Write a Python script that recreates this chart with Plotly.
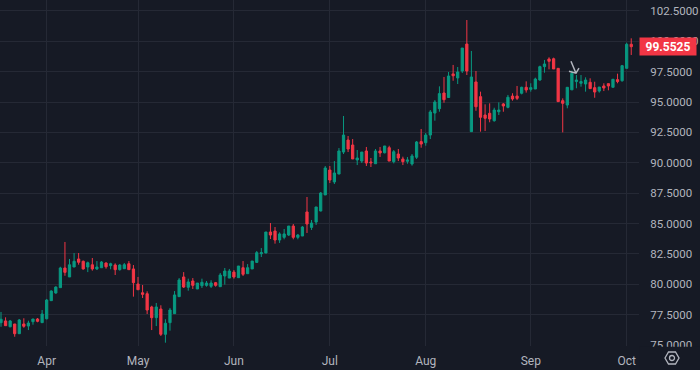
import plotly.graph_objects as go

# ---- data (daily candles, bar index order) ----
opens = [76.84, 76.98, 76.50, 76.73, 75.93, 76.73, 76.56, 76.92, 77.14, 76.84,
         77.16, 78.65, 79.28, 79.72, 81.34, 80.60, 81.42, 82.08, 81.89, 81.42,
         81.60, 81.26, 81.36, 81.75, 81.53, 81.58, 81.20, 81.28, 81.69, 81.26,
         80.02, 79.30, 79.22, 78.13, 77.25, 77.96, 75.88, 76.84, 77.58, 78.98,
         80.60, 79.75, 80.27, 79.61, 79.88, 79.91, 79.83, 80.13, 79.80, 80.68,
         80.51, 81.00, 80.54, 81.36, 80.87, 81.26, 81.80, 82.51, 82.57, 84.30,
         84.38, 83.64, 83.86, 84.05, 84.79, 83.86, 83.97, 85.95, 84.68, 85.12,
         86.03, 87.35, 89.40, 88.42, 89.07, 90.88, 91.87, 91.46, 90.23, 90.14,
         90.97, 90.06, 89.92, 90.97, 90.82, 91.24, 90.09, 90.72, 90.31, 90.12,
         89.90, 90.45, 91.74, 91.65, 92.28, 94.09, 94.45, 95.74, 95.37, 97.31,
         96.98, 97.55, 99.77, 92.56, 96.65, 95.44, 93.93, 94.07, 93.46, 94.20,
         94.84, 94.56, 95.49, 95.49, 95.72, 96.21, 96.04, 96.07, 96.81, 97.91,
         98.54, 98.56, 97.77, 95.11, 94.75, 96.00, 96.68, 96.54, 96.48, 96.62,
         96.18, 95.90, 96.32, 96.51, 96.21, 96.84, 96.75, 97.77, 99.75]
highs = [77.72, 77.28, 77.06, 76.73, 77.14, 77.20, 77.00, 77.14, 77.22, 77.88,
         78.79, 79.50, 79.83, 81.44, 83.48, 82.08, 82.57, 82.57, 81.95, 81.86,
         82.16, 81.91, 81.91, 81.80, 81.77, 81.72, 81.66, 81.75, 81.91, 81.58,
         80.60, 79.94, 79.42, 78.23, 78.46, 78.27, 77.12, 78.05, 79.44, 80.51,
         81.00, 80.46, 80.51, 80.10, 80.46, 80.27, 80.33, 80.19, 80.93, 81.34,
         81.26, 81.17, 81.50, 81.91, 81.66, 81.91, 82.74, 82.98, 84.30, 85.04,
         84.71, 84.27, 84.55, 84.79, 84.96, 84.14, 84.79, 87.18, 85.29, 86.36,
         87.59, 89.73, 89.73, 90.14, 91.21, 93.85, 92.20, 91.95, 91.05, 90.88,
         91.30, 90.39, 91.13, 91.30, 91.38, 91.40, 91.05, 91.13, 90.50, 90.47,
         90.72, 91.79, 92.78, 92.45, 94.34, 95.16, 96.29, 97.06, 97.47, 98.05,
         97.88, 99.44, 101.75, 99.20, 97.55, 95.85, 94.81, 94.89, 94.53, 94.97,
         94.92, 95.58, 95.72, 96.32, 96.26, 96.70, 96.54, 97.00, 97.99, 98.46,
         98.68, 98.65, 97.77, 95.30, 96.21, 97.58, 97.22, 97.22, 97.03, 96.95,
         96.67, 96.23, 96.54, 96.51, 96.87, 97.33, 98.05, 99.88, 100.24]
lows = [76.50, 76.59, 76.46, 75.68, 75.93, 76.42, 76.23, 76.67, 76.87, 76.84,
        77.11, 78.62, 79.22, 79.72, 80.70, 80.60, 81.42, 81.61, 81.20, 81.00,
        81.12, 81.17, 81.36, 81.28, 81.23, 80.76, 81.12, 81.28, 81.20, 78.98,
        79.55, 78.87, 77.55, 76.23, 76.56, 75.74, 75.19, 76.18, 77.58, 78.98,
        79.69, 79.47, 79.61, 79.61, 79.69, 79.80, 79.69, 79.80, 79.80, 79.97,
        80.51, 80.46, 80.54, 80.68, 80.87, 81.26, 81.77, 82.24, 82.57, 83.72,
        83.34, 83.40, 83.70, 83.97, 83.70, 83.70, 83.97, 84.22, 84.47, 84.88,
        86.00, 87.35, 88.33, 88.25, 89.07, 90.72, 90.88, 90.31, 89.81, 89.98,
        89.73, 89.65, 89.92, 90.47, 90.77, 90.14, 89.95, 90.14, 89.81, 89.92,
        89.76, 90.31, 91.24, 91.40, 91.95, 93.46, 94.20, 94.94, 95.37, 96.75,
        96.48, 97.39, 97.22, 92.56, 94.28, 92.56, 92.61, 93.33, 93.38, 93.93,
        94.20, 94.48, 95.11, 95.16, 95.63, 95.77, 95.85, 96.07, 96.75, 97.41,
        97.69, 97.72, 95.03, 92.50, 94.48, 96.00, 96.13, 96.26, 95.85, 96.10,
        95.35, 95.77, 95.90, 95.96, 96.21, 96.54, 96.67, 97.77, 98.87]
closes = [77.12, 76.59, 76.98, 75.93, 77.06, 76.54, 76.81, 77.14, 76.95, 77.55,
          78.70, 79.44, 79.77, 81.34, 80.98, 81.60, 81.89, 81.81, 81.26, 81.77,
          81.26, 81.42, 81.83, 81.44, 81.69, 81.20, 81.58, 81.61, 81.20, 80.13,
          79.55, 79.17, 77.88, 77.25, 78.13, 75.88, 76.79, 77.88, 79.12, 80.35,
          79.77, 80.19, 79.91, 80.10, 80.16, 80.10, 80.10, 79.91, 80.76, 81.09,
          81.09, 80.60, 81.50, 80.82, 81.36, 81.91, 82.60, 82.60, 84.30, 84.05,
          83.64, 84.14, 84.14, 84.79, 83.86, 84.05, 84.71, 84.96, 85.04, 86.36,
          87.51, 89.57, 88.58, 89.16, 90.97, 92.28, 91.13, 90.31, 90.39, 90.88,
          89.98, 90.00, 90.97, 90.80, 91.38, 90.14, 90.91, 90.39, 90.09, 90.23,
          90.56, 91.71, 91.54, 92.28, 94.18, 95.00, 95.69, 95.19, 97.14, 97.16,
          97.47, 99.44, 97.55, 97.06, 94.61, 93.74, 93.66, 93.60, 94.34, 94.34,
          94.67, 95.39, 95.25, 95.30, 96.21, 95.99, 96.18, 96.89, 97.91, 98.13,
          98.35, 97.72, 95.03, 94.89, 96.21, 97.36, 96.81, 96.68, 96.81, 96.10,
          95.82, 96.23, 96.15, 96.32, 96.87, 96.68, 97.99, 99.75, 99.5525]

month_labels = ["Apr", "May", "Jun", "Jul", "Aug", "Sep", "Oct"]
month_start_bar = [10, 30, 51, 72, 93, 116, 137]

price_ticks = [75.0, 77.5, 80.0, 82.5, 85.0, 87.5, 90.0, 92.5, 95.0, 97.5, 100.0, 102.5]

# a single drawn arrow marker (bar index, price of its tip)
arrow_bar = 125.9
arrow_price = 97.37

# ---- styling ----
BG = "#161a25"
GRID = "#252935"
TXT = "#b2b5be"
UP = "#089981"
DOWN = "#f23645"
FONT = "Roboto"

bars = list(range(len(opens)))
last_close = closes[-1]

fig = go.Figure(go.Candlestick(
    x=bars, open=opens, high=highs, low=lows, close=closes,
    increasing=dict(line=dict(color=UP, width=1), fillcolor=UP),
    decreasing=dict(line=dict(color=DOWN, width=1), fillcolor=DOWN),
    whiskerwidth=0, hoverinfo="skip", showlegend=False,
))

fig.update_layout(
    width=700, height=370,
    paper_bgcolor=BG, plot_bgcolor=BG,
    margin=dict(l=0, r=61, t=0, b=24, pad=0),
    font=dict(family=FONT, size=12, color=TXT),
    showlegend=False,
)
fig.update_xaxes(
    range=[-0.22, 139.7], tickmode="array",
    tickvals=month_start_bar, ticktext=month_labels,
    showgrid=True, gridcolor=GRID, gridwidth=1,
    zeroline=False, showline=False,
    ticks="outside", ticklen=4, tickcolor="rgba(0,0,0,0)",
    tickfont=dict(family=FONT, size=12, color=TXT),
    rangeslider=dict(visible=False), fixedrange=True,
)
fig.update_yaxes(
    side="right", range=[74.918, 103.395], tickmode="array",
    tickvals=price_ticks, ticktext=[f"{v:.4f}" for v in price_ticks],
    showgrid=True, gridcolor=GRID, gridwidth=1,
    zeroline=False, showline=False,
    ticks="outside", ticklen=8, tickcolor="rgba(0,0,0,0)",
    tickfont=dict(family=FONT, size=11.5, color=TXT),
    fixedrange=True,
)

# hide the lower half of the clipped bottom price label
fig.add_shape(type="rect", xref="paper", yref="paper",
              x0=1.0005, x1=1.2, y0=-0.002, y1=-0.08,
              fillcolor=BG, line=dict(width=0), layer="above")

# last price badge
fig.add_annotation(
    xref="paper", yref="y", x=1.0, xanchor="left", y=last_close, yanchor="middle",
    text=f"<b>{last_close:.4f}</b>", showarrow=False,
    bgcolor=DOWN, font=dict(family=FONT, size=12, color="#ffffff"),
    width=52, height=13, borderpad=2, align="center",
)

# drawn arrow marker
fig.add_shape(
    type="path", xref="x", yref="y", xsizemode="pixel", ysizemode="pixel",
    xanchor=arrow_bar, yanchor=arrow_price,
    path="M -5 12 L 0 0 M -7 2 L 0 0 L 3 5",
    line=dict(color=TXT, width=1.5), layer="above",
)

# settings icon (hexagon with circle) in the bottom-right corner
fig.add_shape(
    type="path", xref="paper", yref="paper", xsizemode="pixel", ysizemode="pixel",
    xanchor=672 / 639, yanchor=-12 / 346,
    path="M -7 0 L -3.5 6 L 3.5 6 L 7 0 L 3.5 -6 L -3.5 -6 Z",
    line=dict(color=TXT, width=1.3), layer="above",
)
fig.add_shape(
    type="circle", xref="paper", yref="paper", xsizemode="pixel", ysizemode="pixel",
    xanchor=672 / 639, yanchor=-12 / 346,
    x0=-2.5, x1=2.5, y0=-2.5, y1=2.5,
    line=dict(color=TXT, width=1.3), layer="above",
)

fig.write_html(
    "out.html",
    config={"displayModeBar": False, "staticPlot": True},
    post_script="document.body.style.margin='0';document.body.style.overflow='hidden';",
)
